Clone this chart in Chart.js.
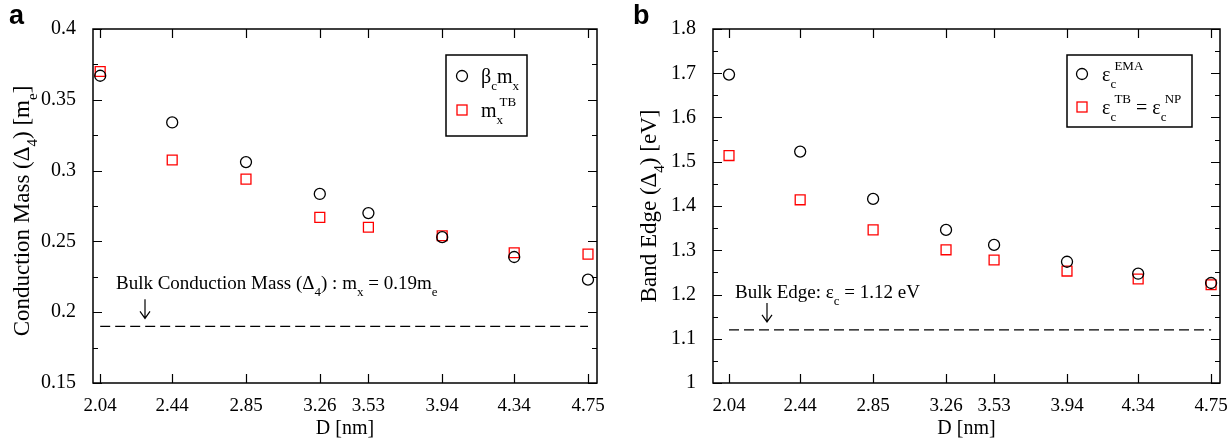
<!DOCTYPE html>
<html>
<head>
<meta charset="utf-8">
<script src="https://cdn.jsdelivr.net/npm/chart.js@4.4.1/dist/chart.umd.min.js"></script>
<style>
body { margin: 0; background: #fff; }
.wrap { display: flex; width: 1232px; height: 442px; }
canvas { display: block; }
</style>
</head>
<body>
<div class="wrap">
  <canvas id="chartA" width="616" height="442"></canvas>
  <canvas id="chartB" width="616" height="442"></canvas>
</div>
<script>
// Nanowire diameters (x positions and tick labels)
const diameters = [2.04, 2.44, 2.85, 3.26, 3.53, 3.94, 4.34, 4.75];

// Panel a: conduction mass
const massEma = [0.367, 0.334, 0.306, 0.2835, 0.270, 0.253, 0.239, 0.223];
const massTb = [0.370, 0.3075, 0.294, 0.267, 0.260, 0.254, 0.242, 0.241];
const bulkMass = 0.19;

// Panel b: band edge
const edgeEma = [1.697, 1.523, 1.416, 1.346, 1.312, 1.274, 1.247, 1.226];
const edgeTb = [1.514, 1.414, 1.346, 1.301, 1.278, 1.253, 1.235, 1.222];
const bulkEdge = 1.12;

const serif = '"Liberation Serif", "Times New Roman", serif';

// draw text made of pieces, some of them sub/superscripts
function richText(ctx, x, y, parts, size) {
    let cx = x;
    ctx.textAlign = 'left';
    ctx.textBaseline = 'alphabetic';
    parts.forEach(p => {
        if (typeof p === 'string') {
            ctx.font = size + 'px ' + serif;
            ctx.fillText(p, cx, y);
            cx += ctx.measureText(p).width;
        } else {
            const small = Math.round(size * 0.66);
            ctx.font = small + 'px ' + serif;
            let w = 0;
            if (p.sub) {
                ctx.fillText(p.sub, cx, y + size * 0.35);
                w = ctx.measureText(p.sub).width;
            }
            if (p.sup) {
                const sx = cx + (p.supDx || 0);
                ctx.fillText(p.sup, sx, y - size * 0.55);
                w = Math.max(w, (p.supDx || 0) + ctx.measureText(p.sup).width);
            }
            cx += w;
        }
    });
    return cx;
}

function richWidth(ctx, parts, size) {
    let w = 0;
    parts.forEach(p => {
        if (typeof p === 'string') { ctx.font = size + 'px ' + serif; w += ctx.measureText(p).width; }
        else { ctx.font = Math.round(size * 0.66) + 'px ' + serif; w += ctx.measureText(p.sub).width; }
    });
    return w;
}

function framePlugin(opts) {
    return {
        id: 'frame',
        afterDraw(chart) {
            const ctx = chart.ctx;
            const a = chart.chartArea;
            const xs = chart.scales.x, ys = chart.scales.y;
            ctx.save();
            ctx.strokeStyle = '#000';
            ctx.fillStyle = '#000';
            ctx.lineWidth = 1.5;
            ctx.strokeRect(a.left, a.top, a.right - a.left, a.bottom - a.top);

            // inward ticks, mirrored on all sides
            ctx.lineWidth = 1.2;
            ctx.beginPath();
            diameters.forEach(v => {
                const px = Math.round(xs.getPixelForValue(v)) + 0.5;
                ctx.moveTo(px, a.bottom); ctx.lineTo(px, a.bottom - 9);
                ctx.moveTo(px, a.top); ctx.lineTo(px, a.top + 9);
            });
            const n = Math.round((opts.yMax - opts.yMin) / opts.minor);
            for (let i = 0; i <= n; i++) {
                const v = opts.yMin + i * opts.minor;
                const py = Math.round(ys.getPixelForValue(v)) + 0.5;
                const len = i % 2 === 0 ? 9 : 5;
                ctx.moveTo(a.left, py); ctx.lineTo(a.left + len, py);
                ctx.moveTo(a.right, py); ctx.lineTo(a.right - len, py);
            }
            ctx.stroke();

            // arrow pointing at bulk line
            const ax = opts.arrowX;
            const ay = ys.getPixelForValue(opts.bulk);
            ctx.beginPath();
            ctx.moveTo(ax, ay - 27); ctx.lineTo(ax, ay - 8);
            ctx.moveTo(ax - 5, ay - 15); ctx.lineTo(ax, ay - 8); ctx.lineTo(ax + 5, ay - 15);
            ctx.stroke();

            // annotation
            richText(ctx, opts.noteX, opts.noteY, opts.note, 19);

            // legend box
            const L = opts.legend;
            ctx.lineWidth = 1.5;
            ctx.strokeRect(L.x, L.y, L.w, L.h);
            ctx.lineWidth = 1.3;
            ctx.beginPath();
            ctx.arc(L.markX, L.row1, 5.5, 0, Math.PI * 2);
            ctx.stroke();
            ctx.strokeStyle = '#ff0000';
            ctx.strokeRect(L.markX - 5, L.row2 - 5, 10, 10);
            richText(ctx, L.textX, L.base1, L.text1, 20);
            richText(ctx, L.textX, L.base2, L.text2, 20);

            // x title
            ctx.font = '20px ' + serif;
            ctx.textAlign = 'center';
            ctx.fillText('D [nm]', (a.left + a.right) / 2, 434);

            // y title (rotated)
            ctx.save();
            ctx.translate(opts.yTitleX, (a.top + a.bottom) / 2 + opts.yTitleDy);
            ctx.rotate(-Math.PI / 2);
            const w = richWidth(ctx, opts.yTitle, 23);
            richText(ctx, -w / 2, 0, opts.yTitle, 23);
            ctx.restore();

            // panel letter
            ctx.font = 'bold 27px "Liberation Sans", Arial, sans-serif';
            ctx.textAlign = 'left';
            ctx.fillText(opts.letter, opts.letterX, 24);
            ctx.restore();
        }
    };
}

function makePanel(id, cfg) {
    const ctx = document.getElementById(id).getContext('2d');
    return new Chart(ctx, {
        type: 'scatter',
        data: {
            datasets: [
                {
                    label: 'ema',
                    data: diameters.map((d, i) => ({ x: d, y: cfg.ema[i] })),
                    pointStyle: 'circle',
                    pointRadius: 5.5,
                    borderColor: '#000',
                    backgroundColor: 'rgba(0,0,0,0)',
                    borderWidth: 1.3
                },
                {
                    label: 'tb',
                    data: diameters.map((d, i) => ({ x: d, y: cfg.tb[i] })),
                    pointStyle: 'rect',
                    pointRadius: 7,
                    borderColor: '#ff0000',
                    backgroundColor: 'rgba(0,0,0,0)',
                    borderWidth: 1.3
                },
                {
                    type: 'line',
                    label: 'bulk',
                    data: [{ x: diameters[0], y: cfg.bulk }, { x: diameters[diameters.length - 1], y: cfg.bulk }],
                    borderColor: '#000',
                    borderWidth: 1.3,
                    borderDash: [10, 5],
                    pointRadius: 0,
                    fill: false
                }
            ]
        },
        options: {
            responsive: false,
            animation: false,
            layout: { padding: { top: 29, right: cfg.padRight, left: 0, bottom: 0 } },
            plugins: { legend: { display: false }, tooltip: { enabled: false } },
            scales: {
                x: {
                    type: 'linear',
                    min: cfg.xMin,
                    max: 4.8,
                    afterBuildTicks: s => { s.ticks = diameters.map(v => ({ value: v })); },
                    afterFit: s => { s.height = 59; },
                    grid: { display: false },
                    border: { display: false },
                    ticks: {
                        color: '#000',
                        padding: 4,
                        maxRotation: 0,
                        autoSkip: false,
                        font: { family: serif, size: 19 },
                        callback: v => v.toFixed(2)
                    }
                },
                y: {
                    min: cfg.yMin,
                    max: cfg.yMax,
                    afterFit: s => { s.width = cfg.yWidth; },
                    grid: { display: false },
                    border: { display: false },
                    ticks: {
                        stepSize: cfg.step,
                        color: '#000',
                        padding: 9,
                        font: { family: serif, size: 20 },
                        callback: v => String(+v.toFixed(2))
                    }
                }
            }
        },
        plugins: [framePlugin(cfg)]
    });
}

makePanel('chartA', {
    ema: massEma, tb: massTb, bulk: bulkMass,
    xMin: 2.0, yMin: 0.15, yMax: 0.4, step: 0.05, minor: 0.025,
    yWidth: 93, padRight: 19,
    arrowX: 145,
    noteX: 116, noteY: 289,
    note: ['Bulk Conduction Mass (Δ', { sub: '4' }, ') : m', { sub: 'x' }, ' = 0.19m', { sub: 'e' }],
    legend: {
        x: 446, y: 55, w: 81, h: 81, markX: 462, row1: 76, row2: 110, textX: 481,
        base1: 83, base2: 117,
        text1: ['β', { sub: 'c' }, 'm', { sub: 'x' }],
        text2: ['m', { sub: 'x', sup: 'TB', supDx: 3 }]
    },
    yTitleX: 29, yTitleDy: 5,
    yTitle: ['Conduction Mass (Δ', { sub: '4' }, ') [m', { sub: 'e' }, ']'],
    letter: 'a', letterX: 9
});

makePanel('chartB', {
    ema: edgeEma, tb: edgeTb, bulk: bulkEdge,
    xMin: 1.95, yMin: 1.0, yMax: 1.8, step: 0.1, minor: 0.05,
    yWidth: 97, padRight: 12,
    arrowX: 151,
    noteX: 119, noteY: 298,
    note: ['Bulk Edge: ε', { sub: 'c' }, ' = 1.12 eV'],
    legend: {
        x: 451, y: 55, w: 125, h: 72, markX: 466, row1: 74, row2: 107, textX: 486,
        base1: 81, base2: 114,
        text1: ['ε', { sub: 'c', sup: 'EMA', supDx: 4 }],
        text2: ['ε', { sub: 'c', sup: 'TB', supDx: 4 }, ' = ε', { sub: 'c', sup: 'NP', supDx: 4 }]
    },
    yTitleX: 40, yTitleDy: 0,
    yTitle: ['Band Edge (Δ', { sub: '4' }, ') [eV]'],
    letter: 'b', letterX: 17
});
</script>
</body>
</html>
